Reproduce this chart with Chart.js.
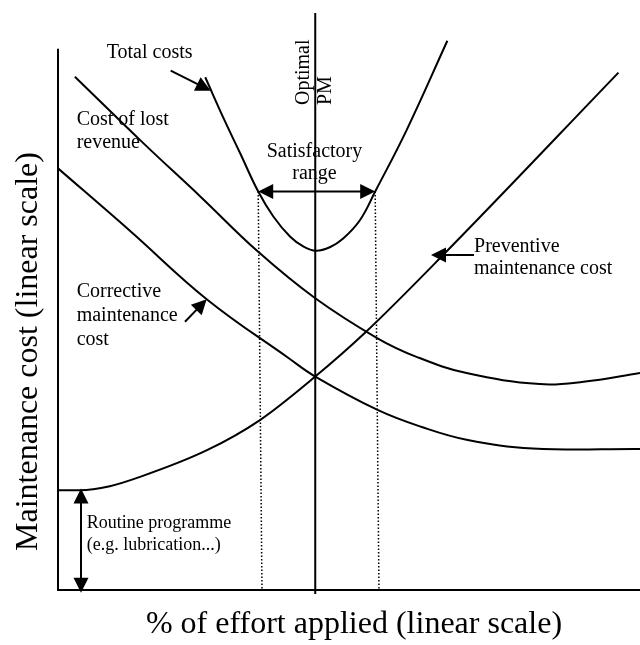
<!DOCTYPE html>
<html><head><meta charset="utf-8">
<script src="https://cdn.jsdelivr.net/npm/chart.js@4.4.1/dist/chart.umd.min.js"></script>
<style>html,body{margin:0;padding:0;background:#fff;}canvas{display:block;}</style>
</head><body>
<canvas id="c" width="640" height="645"></canvas>
<script>
// Readings: x = % of effort applied (0-100), y = maintenance cost (0-100), both linear
const totalX = [25.3, 28.6, 31.3, 34.4, 37.0, 39.9, 42.2, 44.3, 46.7, 49.0, 51.9, 54.5, 59.9, 66.9];
const totalY = [88.4, 81.0, 75.3, 68.7, 64.4, 60.9, 59.2, 58.5, 59.1, 60.6, 63.8, 68.7, 79.3, 94.7];
const lostX = [2.9, 14.7, 24.4, 34.4, 44.2, 54.9, 61.6, 70.2, 82.8, 90.3, 100];
const lostY = [88.5, 77.0, 67.9, 58.3, 50.3, 43.4, 40.2, 37.4, 35.5, 35.9, 37.4];
const corrX = [0, 12.4, 25.6, 39.6, 44.2, 55.0, 62.5, 70.2, 81.6, 100];
const corrY = [72.7, 61.9, 50.1, 40.0, 36.8, 31.0, 28.1, 25.9, 24.4, 24.3];
const prevX = [0, 3.8, 8.9, 14.1, 25.6, 34.7, 44.2, 52.8, 66.5, 96.3];
const prevY = [17.2, 17.2, 17.9, 19.5, 24.1, 29.3, 36.8, 44.4, 58.1, 89.2];
const seriesNames = ["Total costs", "Cost of lost revenue", "Corrective maintenance cost", "Preventive maintenance cost"];
const optimalPM = 44.2;
const satisfactoryRange = [34.4, 54.5];
const satisfactoryLevel = 68.7;
const routineLevel = 17.5;

const xTitle = "% of effort applied (linear scale)";
const yTitle = "Maintenance cost (linear scale)";

const pts = (xs, ys) => xs.map((x, i) => ({x: x, y: ys[i]}));
const FONT = '"Liberation Serif", "Times New Roman", serif';

// annotation anchors in data units
const notes = {
  leftAxisTop: 93.3,
  pmTop: 99.5, pmBottom: -0.7,
  dotBottomShift: 0.65,
  arrows: [
    {from: [19.36, 89.53], to: [26.24, 86.09], both: false},
    {from: [21.82, 46.26], to: [25.55, 50.12], both: false},
    {from: [71.48, 57.76], to: [64.09, 57.76], both: false},
    {from: [satisfactoryRange[0], satisfactoryLevel], to: [satisfactoryRange[1], satisfactoryLevel], both: true},
    {from: [3.95, routineLevel], to: [3.95, -0.47], both: true}
  ],
  labels: [
    {t: "Total costs", x: 8.37, y: 91.67, a: "left"},
    {t: "Cost of lost", x: 3.21, y: 80.17, a: "left"},
    {t: "revenue", x: 3.21, y: 76.16, a: "left"},
    {t: "Corrective", x: 3.21, y: 50.47, a: "left"},
    {t: "maintenance", x: 3.21, y: 46.43, a: "left"},
    {t: "cost", x: 3.21, y: 42.24, a: "left"},
    {t: "Satisfactory", x: 44.07, y: 74.71, a: "center"},
    {t: "range", x: 44.07, y: 70.86, a: "center"},
    {t: "Preventive", x: 71.48, y: 58.33, a: "left"},
    {t: "maintenance cost", x: 71.48, y: 54.48, a: "left"},
    {t: "Routine programme", x: 4.93, y: 10.64, a: "left", small: true},
    {t: "(e.g. lubrication...)", x: 4.93, y: 6.9, a: "left", small: true}
  ],
  rotated: [
    {t: "Optimal", x: 43.21, y: 83.62},
    {t: "PM", x: 46.91, y: 83.62}
  ]
};

function head(ctx, x0, y0, x1, y1, len, half) {
  const a = Math.atan2(y1 - y0, x1 - x0);
  const c = Math.cos(a), s = Math.sin(a);
  ctx.beginPath();
  ctx.moveTo(x1, y1);
  ctx.lineTo(x1 - len * c + half * s, y1 - len * s - half * c);
  ctx.lineTo(x1 - len * c - half * s, y1 - len * s + half * c);
  ctx.closePath();
  ctx.fill();
}

const diagram = {
  id: 'diagram',
  beforeDatasetsDraw(chart) {
    const ctx = chart.ctx, X = chart.scales.x, Y = chart.scales.y;
    const px = v => X.getPixelForValue(v), py = v => Y.getPixelForValue(v);
    ctx.save();
    ctx.strokeStyle = '#000';
    ctx.lineWidth = 2;
    ctx.beginPath();
    ctx.moveTo(px(0), py(notes.leftAxisTop));
    ctx.lineTo(px(0), py(0));
    ctx.lineTo(chart.width, py(0));
    ctx.stroke();
    ctx.beginPath();
    ctx.moveTo(px(optimalPM), py(notes.pmTop));
    ctx.lineTo(px(optimalPM), py(notes.pmBottom));
    ctx.stroke();
    ctx.lineWidth = 1.5;
    ctx.setLineDash([1.5, 2]);
    satisfactoryRange.forEach(v => {
      ctx.beginPath();
      ctx.moveTo(px(v), py(satisfactoryLevel));
      ctx.lineTo(px(v + notes.dotBottomShift), py(0));
      ctx.stroke();
    });
    ctx.restore();
  },
  afterDatasetsDraw(chart) {
    const ctx = chart.ctx, X = chart.scales.x, Y = chart.scales.y;
    const px = v => X.getPixelForValue(v), py = v => Y.getPixelForValue(v);
    ctx.save();
    ctx.strokeStyle = '#000';
    ctx.fillStyle = '#000';
    ctx.lineWidth = 2;
    notes.arrows.forEach(ar => {
      const x0 = px(ar.from[0]), y0 = py(ar.from[1]), x1 = px(ar.to[0]), y1 = py(ar.to[1]);
      const L = Math.hypot(x1 - x0, y1 - y0), ux = (x1 - x0) / L, uy = (y1 - y0) / L;
      const hl = 15;
      ctx.beginPath();
      ctx.moveTo(ar.both ? x0 + ux * (hl - 2) : x0, ar.both ? y0 + uy * (hl - 2) : y0);
      ctx.lineTo(x1 - ux * (hl - 2), y1 - uy * (hl - 2));
      ctx.stroke();
      head(ctx, x0, y0, x1, y1, hl, 7.5);
      if (ar.both) head(ctx, x1, y1, x0, y0, hl, 7.5);
    });
    ctx.textBaseline = 'alphabetic';
    notes.labels.forEach(l => {
      ctx.font = (l.small ? '18px ' : '20px ') + FONT;
      ctx.textAlign = l.a;
      ctx.fillText(l.t, px(l.x), py(l.y));
    });
    ctx.font = '20px ' + FONT;
    ctx.textAlign = 'left';
    notes.rotated.forEach(l => {
      ctx.save();
      ctx.translate(px(l.x), py(l.y));
      ctx.rotate(-Math.PI / 2);
      ctx.fillText(l.t, 0, 0);
      ctx.restore();
    });
    ctx.font = '32px ' + FONT;
    ctx.textAlign = 'center';
    ctx.fillText(xTitle, 354, 632.7);
    ctx.save();
    ctx.translate(36.7, 351.5);
    ctx.rotate(-Math.PI / 2);
    ctx.fillText(yTitle, 0, 0);
    ctx.restore();
    ctx.restore();
  }
};

const mk = (name, xs, ys, mode) => Object.assign({
  label: name, data: pts(xs, ys), borderColor: '#000', borderWidth: 2,
  pointRadius: 0, fill: false, tension: 0.4
}, mode ? {cubicInterpolationMode: mode} : {});

new Chart(document.getElementById('c'), {
  type: 'line',
  data: {
    datasets: [
      mk(seriesNames[0], totalX, totalY),
      mk(seriesNames[1], lostX, lostY),
      mk(seriesNames[2], corrX, corrY),
      mk(seriesNames[3], prevX, prevY, 'monotone')
    ]
  },
  options: {
    responsive: false,
    animation: false,
    layout: {padding: {left: 58, right: 0, top: 10, bottom: 55}},
    plugins: {legend: {display: false}, tooltip: {enabled: false}},
    scales: {
      x: {type: 'linear', min: 0, max: 100, display: false},
      y: {type: 'linear', min: 0, max: 100, display: false}
    }
  },
  plugins: [diagram]
});
</script>
</body></html>
